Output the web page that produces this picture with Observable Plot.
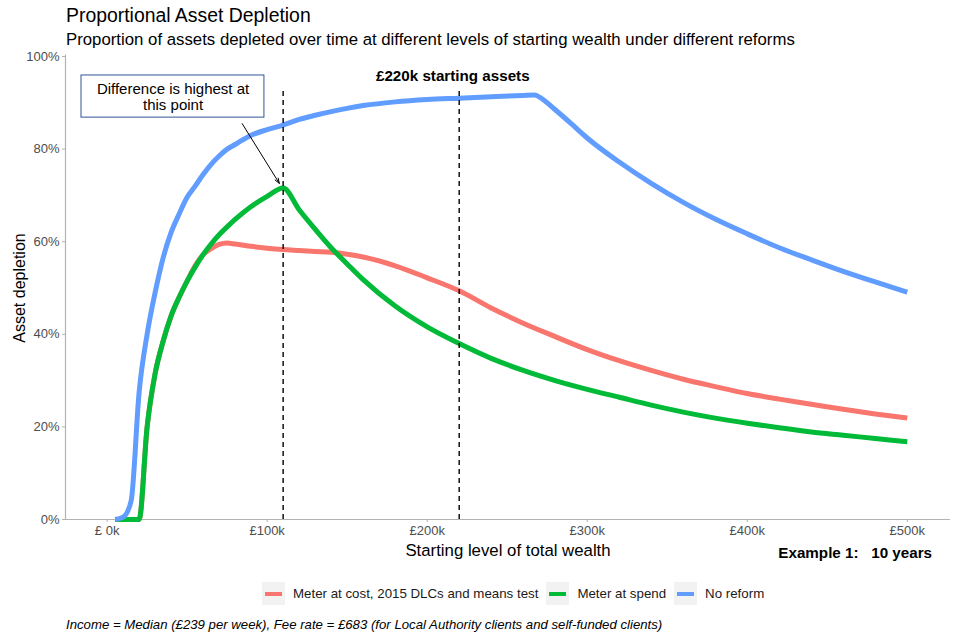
<!DOCTYPE html>
<html>
<head>
<meta charset="utf-8">
<script src="https://cdn.jsdelivr.net/npm/d3@7"></script>
<script src="https://cdn.jsdelivr.net/npm/@observablehq/plot@0.6"></script>
<style>
  html, body { margin: 0; padding: 0; background: #fff; }
  body { width: 960px; height: 640px; position: relative; overflow: hidden; font-family: "Liberation Sans", Arial, sans-serif; }
  #title { position: absolute; left: 66px; top: 4px; font-size: 19.4px; color: #000; z-index: 2; }
  #subtitle { position: absolute; left: 66px; top: 30px; font-size: 16.8px; color: #000; z-index: 2; }
  #chart { position: absolute; left: 0; top: 46px; z-index: 1; }
  #example { position: absolute; right: 28px; top: 544px; font-size: 15.2px; font-weight: bold; color: #000; z-index: 2; }
  #legend { position: absolute; left: 262px; top: 582px; display: flex; align-items: center; font-size: 13.3px; color: #1a1a1a; z-index: 2; }
  .sw { width: 23px; height: 23px; background: #f2f2f2; position: relative; margin-right: 8px; }
  .sw span { position: absolute; left: 3px; right: 3px; top: 9.5px; height: 4px; }
  .item { display: flex; align-items: center; margin-right: 8px; }
  #caption { position: absolute; left: 66px; top: 617px; font-size: 13.2px; font-style: italic; color: #000; z-index: 2; }
</style>
</head>
<body>
<div id="chart"></div>
<div id="title">Proportional Asset Depletion</div>
<div id="subtitle">Proportion of assets depleted over time at different levels of starting wealth under different reforms</div>
<div id="example">Example 1:&nbsp;&nbsp; 10 years</div>
<div id="legend"></div>
<div id="caption">Income = Median (£239 per week), Fee rate = £683 (for Local Authority clients and self-funded clients)</div>
<script>
// Starting wealth (£k) for the two meter reforms
const wealth = [5,10,15,20,25,30,35,40,45,50,55,60,65,70,75,80,90,100,110,120,130,140,150,160,180,200,220,240,260,280,300,320,340,360,380,400,420,440,460,480,500];
// Asset depletion (proportion)
const meterAtCost = [0,0,0,0,0.20,0.315,0.385,0.44,0.48,0.515,0.548,0.572,0.585,0.594,0.597,0.595,0.59,0.586,0.583,0.581,0.579,0.577,0.573,0.567,0.548,0.522,0.494,0.457,0.424,0.395,0.367,0.343,0.322,0.303,0.287,0.272,0.260,0.249,0.238,0.228,0.219];
const meterAtSpend = [0,0,0,0,0.20,0.315,0.385,0.44,0.48,0.515,0.545,0.572,0.595,0.615,0.632,0.648,0.676,0.698,0.716,0.669,0.627,0.587,0.552,0.518,0.461,0.416,0.380,0.348,0.322,0.300,0.281,0.264,0.247,0.232,0.219,0.208,0.198,0.189,0.182,0.175,0.168];
// Starting wealth (£k) and asset depletion for no reform
const wealthNoReform = [5,10,15,20,25,30,35,40,45,50,55,60,65,70,75,80,90,100,110,120,130,140,150,160,180,200,220,240,260,267,272,280,290,300,320,340,360,380,400,420,440,460,480,500];
const noReform = [0,0.005,0.04,0.275,0.40,0.49,0.565,0.62,0.66,0.696,0.72,0.745,0.767,0.785,0.80,0.81,0.83,0.842,0.852,0.864,0.873,0.881,0.888,0.894,0.902,0.907,0.910,0.913,0.916,0.917,0.908,0.885,0.855,0.824,0.772,0.726,0.685,0.649,0.617,0.587,0.561,0.536,0.513,0.491];
const seriesNames = ["Meter at cost, 2015 DLCs and means test", "Meter at spend", "No reform"];
const seriesColors = ["#F8766D", "#00BA38", "#619CFF"];
const xTicks = [0,100,200,300,400,500];
const yTicks = [0,0.2,0.4,0.6,0.8,1.0];
const markerLines = [110, 220];
const markerLabel = [{x: 216, y: 0.958, text: "£220k starting assets"}];
const noteBox = [{x1: -16, x2: 98.3, y1: 0.868, y2: 0.959}];
const noteText = [{x: 41.2, y: 0.9135, text: "Difference is highest at\nthis point"}];
const noteArrow = [{x1: 84.4, y1: 0.855, x2: 107.6, y2: 0.726}];

const seriesX = [wealth, wealth, wealthNoReform];
const seriesValues = [meterAtCost, meterAtSpend, noReform];
const data = [];
seriesNames.forEach((s, i) => seriesX[i].forEach((w, j) => data.push({series: s, wealth: w, value: seriesValues[i][j]})));

const plot = Plot.plot({
  width: 960,
  height: 520,
  marginLeft: 65,
  marginRight: 10,
  marginTop: 10,
  marginBottom: 47,
  style: {fontFamily: "Liberation Sans, Arial, sans-serif", background: "transparent"},
  x: {domain: [-26, 527]},
  y: {domain: [0, 1]},
  color: {domain: seriesNames, range: seriesColors},
  marks: [
    Plot.ruleY([0], {stroke: "#b3b3b3", strokeWidth: 1.2}),
    Plot.ruleX([-26], {y1: 0, y2: 1.003, stroke: "#b3b3b3", strokeWidth: 1.2}),
    Plot.axisX({ticks: xTicks, tickFormat: d => d === 0 ? "£ 0k" : `£${d}k`, tickSize: 3, tickPadding: 3, fontSize: 13, color: "#4d4d4d", stroke: "#b3b3b3", label: "Starting level of total wealth", labelAnchor: "center", labelArrow: "none", labelOffset: 36}),
    Plot.axisY({ticks: yTicks, tickFormat: d => Math.round(d * 100) + "%", tickSize: 3, tickPadding: 3, fontSize: 13, color: "#4d4d4d", stroke: "#b3b3b3", label: "Asset depletion", labelAnchor: "center", labelArrow: "none", labelOffset: 52}),
    Plot.line(data, {x: "wealth", y: "value", z: "series", stroke: "series", strokeWidth: 5, strokeLinejoin: "round", strokeLinecap: "butt", curve: "monotone-x"}),
    Plot.ruleX(markerLines, {y1: 0, y2: 0.93, stroke: "#000", strokeWidth: 1.4, strokeDasharray: "5,4"}),
    Plot.text(markerLabel, {x: "x", y: "y", text: "text", fontWeight: "bold", fontSize: 15.2, fill: "#000"}),
    Plot.rect(noteBox, {x1: "x1", x2: "x2", y1: "y1", y2: "y2", fill: "#fff", stroke: "#2F5597", strokeWidth: 1}),
    Plot.text(noteText, {x: "x", y: "y", text: "text", fontSize: 15, fill: "#000", lineHeight: 1.07}),
    Plot.arrow(noteArrow, {x1: "x1", y1: "y1", x2: "x2", y2: "y2", stroke: "#000", strokeWidth: 1, headLength: 8, headAngle: 40})
  ]
});
document.getElementById("chart").appendChild(plot);

// style axis titles
plot.querySelectorAll("[aria-label='x-axis label'] text").forEach(t => {
  t.setAttribute("font-size", "16.8"); t.setAttribute("fill", "#000"); t.style.fontSize = "16.8px"; t.style.fill = "#000";
});
plot.querySelectorAll("[aria-label='y-axis label'] text").forEach(t => {
  t.setAttribute("font-size", "16"); t.setAttribute("fill", "#000"); t.style.fontSize = "16px"; t.style.fill = "#000";
});

const legend = document.getElementById("legend");
seriesNames.forEach((s, i) => {
  const item = document.createElement("div");
  item.className = "item";
  item.innerHTML = `<div class="sw"><span style="background:${seriesColors[i]}"></span></div><div>${s}</div>`;
  legend.appendChild(item);
});
</script>
</body>
</html>
